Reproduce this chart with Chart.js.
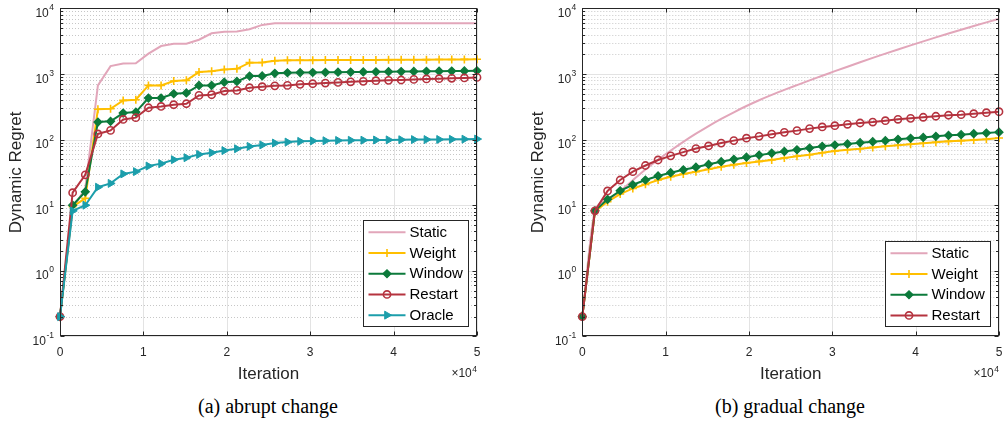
<!DOCTYPE html>
<html>
<head>
<meta charset="utf-8">
<script src="https://cdn.jsdelivr.net/npm/chart.js@4.4.1/dist/chart.umd.min.js"></script>
<style>
  html, body { margin: 0; padding: 0; background: #fff; width: 1005px; height: 425px; overflow: hidden; }
  .panel { position: absolute; top: 0; }
  .cap { position: absolute; top: 395px; font-family: "Liberation Serif", "Times New Roman", serif; font-size: 20px; color: #000; transform: translateX(-50%); white-space: nowrap; }
</style>
</head>
<body>
<canvas class="panel" id="chartA" width="500" height="390" style="left:0"></canvas>
<canvas class="panel" id="chartB" width="485" height="390" style="left:520px"></canvas>
<div class="cap" style="left:268px">(a) abrupt change</div>
<div class="cap" style="left:790px">(b) gradual change</div>
<script>
// iteration at which each point was recorded
const iterations = [0, 1515, 3030, 4545, 6061, 7576, 9091, 10606, 12121, 13636, 15152, 16667, 18182, 19697, 21212, 22727, 24242,
  25758, 27273, 28788, 30303, 31818, 33333, 34848, 36364, 37879, 39394, 40909, 42424, 43939, 45455, 46970, 48485, 50000]

// (a) abrupt change
const abruptStatic = [0.2, 9, 18, 670, 1320, 1450, 1460, 2040, 2670, 2890, 2890, 3330, 4170, 4420, 4450, 4800, 5600,
  5950, 5950, 5950, 5950, 5950, 5950, 5950, 5950, 5950, 5950, 5950, 5950, 5950, 5950, 5950, 5950, 5950]
const abruptWeight = [0.2, 9.5, 12.7, 290, 295, 396, 405, 670, 670, 780, 800, 1070, 1100, 1170, 1200, 1490, 1500,
  1595, 1615, 1620, 1625, 1628, 1632, 1635, 1638, 1641, 1644, 1647, 1650, 1655, 1660, 1665, 1670, 1675]
const abruptWindow = [0.2, 10, 16, 185, 190, 254, 263, 430, 430, 500, 515, 670, 670, 750, 770, 930, 935,
  1025, 1045, 1050, 1055, 1060, 1065, 1070, 1075, 1080, 1085, 1090, 1095, 1100, 1105, 1110, 1115, 1120]
const abruptRestart = [0.2, 15.5, 29, 122, 138, 203, 216, 306, 320, 340, 352, 472, 483, 550, 562, 617, 640,
  660, 670, 695, 710, 728, 745, 760, 773, 790, 800, 810, 828, 840, 848, 860, 870, 887]
const abruptOracle = [0.2, 8.2, 10, 18.8, 21.5, 30, 32.5, 39.5, 43, 49.4, 53, 59.5, 63, 68, 72.5, 78.7, 83,
  88.5, 91.6, 94, 95.5, 96, 97, 97.5, 98, 98.5, 99, 99.5, 100, 100, 100.5, 101, 101.5, 102]

// (b) gradual change
const gradualStatic = [0.2, 8, 12, 16.5, 24, 35, 49.4, 68.2, 92.5, 123, 161, 207, 261, 325, 398, 480, 572,
  677, 800, 940, 1104, 1292, 1509, 1758, 2042, 2365, 2731, 3145, 3612, 4138, 4727, 5387, 6120, 6935]
const gradualWeight = [0.2, 8, 11.3, 14.8, 18, 20.8, 24.2, 27.2, 29.9, 32.4, 35.3, 38.6, 41.5, 44, 46.5, 49, 52.5,
  55.6, 58.9, 63, 67, 70, 72.5, 76, 79, 81.8, 84.8, 87.9, 91, 94, 96.4, 98.6, 101, 106]
const gradualWindow = [0.2, 8.2, 12.3, 16.6, 20.5, 24.2, 27.9, 31.3, 34.6, 38, 42, 46, 50, 54, 58, 62, 66,
  70, 74.4, 79, 82.8, 85.8, 89.8, 93, 96.4, 101, 104.7, 108, 112, 116, 119, 123, 126, 130]
const gradualRestart = [0.2, 8.2, 16.5, 24.2, 32.4, 40.3, 48.9, 56.5, 64.5, 73, 80, 88.5, 96.5, 105, 112, 121, 129,
  137, 147, 156, 163, 171, 179, 185, 194, 204, 211, 219, 227, 235, 240, 248, 257, 266]

// axes
const xTicks = [0, 10000, 20000, 30000, 40000, 50000]
const xTickLabels = ['0', '1', '2', '3', '4', '5']
const yTicks = [0.1, 1, 10, 100, 1000, 10000]
const yTickExponents = ['-1', '0', '1', '2', '3', '4']

const FONT = '"Liberation Sans", Arial, Helvetica, sans-serif'
const INK = '#262626'

const STYLES = {
  Static:  { color: '#e2a6ba', pointStyle: false, radius: 0 },
  Weight:  { color: '#ffbf00', pointStyle: 'cross', radius: 4, fill: '#ffbf00', bw: 1.6 },
  Window:  { color: '#0c7a3b', pointStyle: 'rectRot', radius: 4, fill: '#0c7a3b', bw: 1.2 },
  Restart: { color: '#b5333f', pointStyle: 'circle', radius: 3.6, fill: 'rgba(255,255,255,0)', bw: 1.6 },
  Oracle:  { color: '#1c9eab', pointStyle: 'triangle', radius: 4.6, fill: '#1c9eab', bw: 1, rotation: 90 }
}

function series(label, values, order, smooth) {
  const s = STYLES[label]
  return {
    label: label,
    data: iterations.map((it, i) => ({ x: it, y: values[i] })),
    borderColor: s.color,
    backgroundColor: s.fill || s.color,
    borderWidth: 2,
    pointStyle: s.pointStyle,
    pointRadius: s.radius,
    pointBorderWidth: s.bw || 0,
    pointBackgroundColor: s.fill || s.color,
    pointBorderColor: s.color,
    pointRotation: s.rotation || 0,
    tension: smooth ? 0.4 : 0,
    cubicInterpolationMode: smooth ? 'monotone' : 'default',
    clip: false,
    order: order
  }
}

function hline(ctx, x0, x1, y) { ctx.beginPath(); ctx.moveTo(x0, y); ctx.lineTo(x1, y); ctx.stroke() }
function vline(ctx, x, y0, y1) { ctx.beginPath(); ctx.moveTo(x, y0); ctx.lineTo(x, y1); ctx.stroke() }

const matlabAxes = {
  id: 'matlabAxes',
  beforeDatasetsDraw(chart) {
    const { ctx, chartArea: a, scales: { x, y } } = chart
    ctx.save()
    ctx.lineWidth = 1
    // dotted minor grid of the log axis
    ctx.strokeStyle = 'rgba(0,0,0,0.22)'
    ctx.setLineDash([1, 2])
    for (let i = 0; i < yTicks.length - 1; i++) {
      for (let m = 2; m <= 9; m++) {
        hline(ctx, a.left, a.right, Math.round(y.getPixelForValue(yTicks[i] * m)) + 0.5)
      }
    }
    ctx.setLineDash([])
    ctx.strokeStyle = '#e3e3e3'
    yTicks.forEach(v => hline(ctx, a.left, a.right, Math.round(y.getPixelForValue(v)) + 0.5))
    xTicks.forEach(v => vline(ctx, Math.round(x.getPixelForValue(v)) + 0.5, a.top, a.bottom))
    ctx.restore()
  },
  afterDatasetsDraw(chart, args, opts) {
    const { ctx, chartArea: a, scales: { x, y } } = chart
    ctx.save()
    ctx.strokeStyle = INK
    ctx.fillStyle = INK
    ctx.lineWidth = 1
    const L = Math.round(a.left) + 0.5, R = Math.round(a.right) - 0.5
    const T = Math.round(a.top) + 0.5, B = Math.round(a.bottom) - 0.5
    ctx.strokeRect(L, T, R - L, B - T)

    // ticks, pointing inward on all four sides
    xTicks.forEach(v => {
      const px = Math.round(x.getPixelForValue(v)) + 0.5
      vline(ctx, px, B, B - 4)
      vline(ctx, px, T, T + 4)
    })
    for (let i = 0; i < yTicks.length; i++) {
      const py = Math.round(y.getPixelForValue(yTicks[i])) + 0.5
      hline(ctx, L, L + 4, py)
      hline(ctx, R, R - 4, py)
      if (i === yTicks.length - 1) break
      for (let m = 2; m <= 9; m++) {
        const pm = Math.round(y.getPixelForValue(yTicks[i] * m)) + 0.5
        hline(ctx, L, L + 2.5, pm)
        hline(ctx, R, R - 2.5, pm)
      }
    }

    // tick labels
    ctx.textBaseline = 'alphabetic'
    ctx.font = '12px ' + FONT
    ctx.textAlign = 'center'
    xTicks.forEach((v, i) => ctx.fillText(xTickLabels[i], x.getPixelForValue(v), a.bottom + 20))
    yTicks.forEach((v, i) => {
      const py = y.getPixelForValue(v)
      ctx.font = '8.5px ' + FONT
      const supW = ctx.measureText(yTickExponents[i]).width
      ctx.textAlign = 'left'
      ctx.fillText(yTickExponents[i], a.left - 6 - supW, py + 1.5)
      ctx.font = '12px ' + FONT
      ctx.textAlign = 'right'
      ctx.fillText('10', a.left - 6.5 - supW, py + 8.6)
    })

    // axis titles
    ctx.font = '17px ' + FONT
    ctx.textAlign = 'center'
    ctx.fillText('Iteration', (a.left + a.right) / 2, a.bottom + 42.5)
    ctx.save()
    ctx.translate(a.left - 44, (a.top + a.bottom) / 2)
    ctx.rotate(-Math.PI / 2)
    ctx.textBaseline = 'middle'
    ctx.fillText('Dynamic Regret', 0, 0)
    ctx.restore()

    // x10^4 exponent label
    ctx.font = '8.5px ' + FONT
    ctx.textAlign = 'right'
    const expW = ctx.measureText('4').width
    ctx.fillText('4', a.right, a.bottom + 35.5)
    ctx.font = '12px ' + FONT
    ctx.fillText('\u00d710', a.right - expW - 0.5, a.bottom + 40.5)

    // legend box, bottom right inside the axes
    const sets = chart.data.datasets
    ctx.font = '15px ' + FONT
    const textW = Math.max(...sets.map(d => ctx.measureText(d.label).width))
    const rowH = 20.7
    const w = Math.round(5 + 37 + 4 + textW + 6)
    const h = Math.round(sets.length * rowH + 2)
    const bx = Math.round(a.right - 9 - w) + 0.5
    const by = Math.round(a.bottom - 10 - h) + 0.5
    ctx.fillStyle = '#fff'
    ctx.fillRect(bx, by, w, h)
    ctx.strokeStyle = INK
    ctx.strokeRect(bx, by, w, h)
    sets.forEach((d, i) => {
      const cy = by + 1.5 + rowH * (i + 0.5)
      ctx.strokeStyle = d.borderColor
      ctx.lineWidth = 2
      hline(ctx, bx + 5, bx + 42, cy)
      if (d.pointStyle && Chart.helpers && Chart.helpers.drawPoint) {
        ctx.fillStyle = d.pointBackgroundColor
        ctx.lineWidth = d.pointBorderWidth
        Chart.helpers.drawPoint(ctx, {
          pointStyle: d.pointStyle, radius: d.pointRadius, rotation: d.pointRotation, borderWidth: d.pointBorderWidth
        }, bx + 23.5, cy)
      }
      ctx.fillStyle = '#000'
      ctx.textAlign = 'left'
      ctx.textBaseline = 'middle'
      ctx.fillText(d.label, bx + 46, cy + 0.5)
    })
    ctx.restore()
  }
}

function makeChart(id, datasets, yWidth, padRight) {
  new Chart(document.getElementById(id), {
    type: 'line',
    data: { datasets: datasets },
    options: {
      responsive: false,
      animation: false,
      events: [],
      layout: { padding: { top: 8.4, right: padRight, left: 0, bottom: 0 }, autoPadding: false },
      scales: {
        x: {
          type: 'linear', min: 0, max: 50000,
          ticks: { display: false }, grid: { display: false }, border: { display: false },
          afterFit: s => { s.height = 390 - 8.4 - 328 }
        },
        y: {
          type: 'logarithmic', min: 0.1, max: 10000,
          ticks: { display: false }, grid: { display: false }, border: { display: false },
          afterFit: s => { s.width = yWidth }
        }
      },
      plugins: { legend: { display: false }, tooltip: { enabled: false } }
    },
    plugins: [matlabAxes]
  })
}

makeChart('chartA', [
  series('Static', abruptStatic, 4),
  series('Weight', abruptWeight, 3),
  series('Window', abruptWindow, 2),
  series('Restart', abruptRestart, 1),
  series('Oracle', abruptOracle, 0)
], 60, 23)

makeChart('chartB', [
  series('Static', gradualStatic, 4, true),
  series('Weight', gradualWeight, 3),
  series('Window', gradualWindow, 2),
  series('Restart', gradualRestart, 1)
], 62.3, 6)
</script>
</body>
</html>
